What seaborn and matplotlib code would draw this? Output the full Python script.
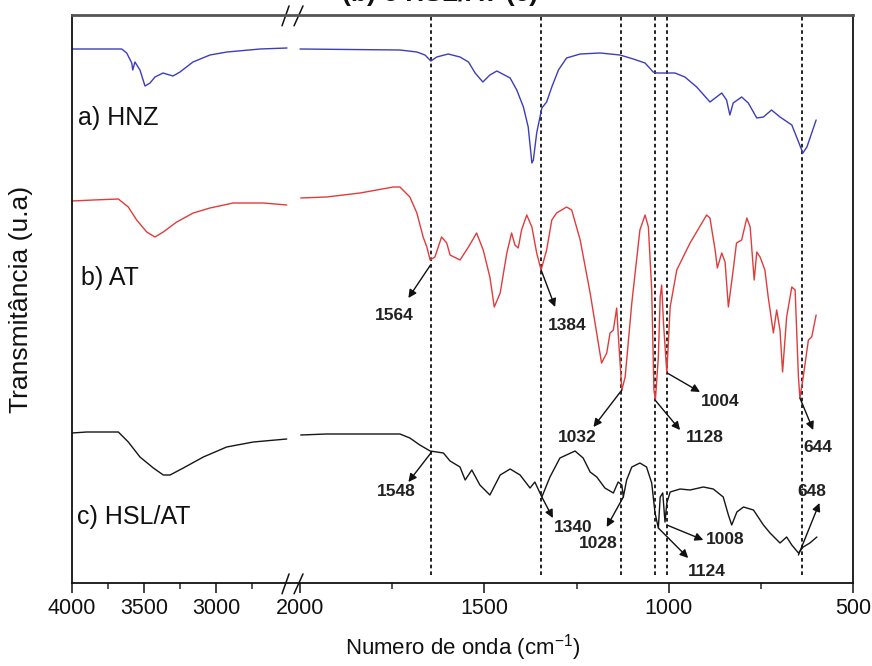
import numpy as np
import pandas as pd
import matplotlib
matplotlib.use("Agg")
import matplotlib.pyplot as plt
import seaborn as sns

# ---------------- data ----------------
amostras = ["a) HNZ", "b) AT", "c) HSL/AT"]

# HNZ (upper trace)
hnz_onda_alta = [4000, 3655, 3620, 3585, 3578, 3563, 3528, 3493, 3458, 3424, 3368,
                 3299, 3250, 3160, 3042, 2924, 2694, 2507]
hnz_trans_alta = [534, 534, 530, 520, 513, 521, 513, 497, 500, 506, 510,
                  507, 511, 521, 528, 531, 534, 535]
hnz_onda_baixa = [2000, 1729, 1683, 1661, 1645, 1629, 1598, 1566, 1543, 1525, 1504,
                  1485, 1466, 1430, 1412, 1394, 1381, 1371, 1367, 1358, 1344, 1331,
                  1317, 1299, 1277, 1240, 1186, 1132, 1096, 1064, 1042, 1032, 983,
                  956, 924, 888, 856, 843, 834, 825, 802, 784, 761, 743, 721, 698,
                  666, 653, 636, 625, 600]
hnz_trans_baixa = [534, 533, 531, 528, 522, 526, 529, 526, 521, 510, 501,
                   508, 512, 505, 493, 476, 456, 420, 423, 450, 475, 481,
                   496, 513, 525, 529, 530, 528, 524, 520, 511, 510, 510,
                   506, 496, 481, 490, 483, 468, 480, 486, 480, 465, 466, 473, 466,
                   458, 446, 430, 436, 463]

# AT (middle trace)
at_onda_alta = [4000, 3852, 3678, 3609, 3551, 3481, 3424, 3366, 3273, 3158, 3042,
                2880, 2672, 2509]
at_trans_alta = [382, 383, 384, 376, 363, 351, 346, 351, 361, 370, 375,
                 380, 380, 378]
at_onda_baixa = [1998, 1928, 1837, 1747, 1729, 1702, 1683, 1666, 1656, 1647, 1634,
                 1616, 1602, 1593, 1566, 1543, 1521, 1503, 1485, 1473, 1457, 1439,
                 1426, 1417, 1408, 1399, 1385, 1371, 1358, 1346, 1331, 1317, 1304,
                 1277, 1263, 1240, 1213, 1182, 1168, 1159, 1150, 1141, 1137, 1127,
                 1118, 1100, 1078, 1064, 1055, 1046, 1040, 1036, 1028, 1023, 1019,
                 1014, 1005, 996, 978, 942, 897, 888, 874, 868, 856, 847, 838, 825,
                 816, 802, 788, 779, 768, 761, 752, 739, 730, 716, 707, 698, 691,
                 680, 666, 657, 648, 644, 635, 621, 612, 600]
at_trans_baixa = [385, 386, 390, 396, 396, 386, 370, 346, 336, 323, 326,
                  346, 340, 328, 323, 336, 350, 333, 306, 276, 290, 330,
                  350, 338, 335, 353, 368, 356, 330, 313, 333, 363, 370,
                  376, 373, 343, 290, 220, 230, 250, 253, 275, 250, 193,
                  206, 280, 353, 368, 356, 293, 193, 183, 226, 286, 298,
                  260, 210, 276, 313, 340, 368, 365, 333, 315, 330, 321, 276, 313,
                  340, 343, 365, 356, 303, 331, 326, 313, 286, 250, 273, 253, 211,
                  266, 296, 293, 206, 185, 206, 243, 246, 268]

# HSL/AT (lower trace)
hsl_onda_alta = [4000, 3898, 3678, 3609, 3528, 3435, 3366, 3319, 3227, 3088, 2926,
                 2741, 2509]
hsl_trans_alta = [150, 151, 151, 141, 126, 115, 108, 108, 115, 126, 136,
                  141, 144]
hsl_onda_baixa = [1998, 1928, 1837, 1729, 1702, 1675, 1647, 1611, 1593, 1575, 1566,
                  1552, 1534, 1512, 1485, 1457, 1430, 1403, 1376, 1363, 1344, 1322,
                  1295, 1254, 1232, 1213, 1195, 1173, 1150, 1137, 1127, 1123, 1114,
                  1100, 1078, 1060, 1046, 1037, 1028, 1023, 1016, 1010, 1005, 996,
                  969, 942, 906, 879, 852, 838, 829, 815, 797, 770, 743, 725, 698,
                  680, 666, 648, 635, 617, 598]
hsl_trans_baixa = [148, 149, 149, 149, 145, 138, 132, 130, 122, 118, 116,
                   103, 113, 98, 88, 108, 114, 108, 95, 101, 86, 106,
                   125, 132, 125, 111, 106, 95, 90, 101, 98, 86, 103,
                   116, 120, 116, 100, 70, 55, 86, 90, 61, 80, 91,
                   94, 93, 96, 94, 86, 68, 58, 71, 76, 73, 58, 50, 40,
                   46, 38, 30, 36, 40, 46]

# reference bands (dashed guides)
bandas = [1645, 1346, 1130, 1037, 1005, 639]

# peak labels
picos_at = ["1564", "1384", "1032", "1128", "1004", "644"]
picos_hsl = ["1548", "1340", "1028", "1124", "1008", "648"]

xticks_maiores = [4000, 3500, 3000, 2000, 1500, 1000, 500]
xticks_menores = [3750, 3250, 2750, 1750, 1250, 750]

# ---------------- long table ----------------
partes = []
for nome, blocos in [
    (amostras[0], [(hnz_onda_alta, hnz_trans_alta), (hnz_onda_baixa, hnz_trans_baixa)]),
    (amostras[1], [(at_onda_alta, at_trans_alta), (at_onda_baixa, at_trans_baixa)]),
    (amostras[2], [(hsl_onda_alta, hsl_trans_alta), (hsl_onda_baixa, hsl_trans_baixa)]),
]:
    for k, (onda, trans) in enumerate(blocos):
        partes.append(pd.DataFrame({"onda": onda, "trans": trans,
                                    "amostra": nome, "trecho": k}))
df = pd.concat(partes, ignore_index=True)

# ---------------- style ----------------
sns.set_style("white")
plt.rcParams["font.family"] = ["Liberation Sans", "DejaVu Sans"]
plt.rcParams["mathtext.fontset"] = "custom"
plt.rcParams["mathtext.rm"] = "Liberation Sans"

fig = plt.figure(figsize=(8.72, 6.66), dpi=100)
ax = fig.add_axes([72 / 872, 1 - 583 / 666, (853 - 72) / 872, (583 - 15) / 666])

# broken wavenumber axis: 4000-2500 compressed, 2000-500 expanded
_dados = [500, 2000, 2500, 4000]
_escala = [0, 553, 565, 781]


def _fwd(x):
    return np.interp(x, _dados, _escala)


def _inv(u):
    return np.interp(u, _escala, _dados)


ax.set_xscale("function", functions=(_fwd, _inv))

paleta = {amostras[0]: "#3d3dbb", amostras[1]: "#e03c3c", amostras[2]: "#161616"}
sns.lineplot(data=df, x="onda", y="trans", hue="amostra", units="trecho",
             estimator=None, sort=False, palette=paleta, linewidth=1.0,
             legend=False, ax=ax)

ax.set_xlim(4000, 500)
ax.set_ylim(0, 568)

for b in bandas:
    ax.axvline(b, ymin=0.014, ymax=1, color="#111111", lw=1.3,
               linestyle=(0, (2.0, 1.7)), zorder=1)

# sample labels
for nome, xpos, ypos in [(amostras[0], 3958, 465), (amostras[1], 3937, 305),
                         (amostras[2], 3965, 66)]:
    ax.text(xpos, ypos, nome, fontsize=18, va="center", ha="left", color="#111111")

# arrows: (label, tail, head, text position)
setas = [
    (picos_at[0], (1646, 318), (1706, 285), (1745, 268)),
    (picos_at[1], (1346, 313), (1308, 276), (1276, 258)),
    (picos_at[2], (1127, 193), (1204, 156), (1249, 146)),
    (picos_at[3], (1037, 183), (969, 153), (901, 145)),
    (picos_at[4], (1004, 210), (915, 191), (861, 181)),
    (picos_at[5], (644, 185), (608, 153), (595, 136)),
    (picos_hsl[0], (1643, 131), (1706, 101), (1738, 91)),
    (picos_hsl[1], (1344, 86), (1314, 65), (1259, 55)),
    (picos_hsl[2], (1123, 86), (1168, 56), (1191, 39)),
    (picos_hsl[3], (1028, 55), (947, 25), (897, 11)),
    (picos_hsl[4], (1005, 58), (906, 43), (847, 44)),
    (picos_hsl[5], (648, 28), (591, 80), (612, 92)),
]
for rotulo, cauda, ponta, pos in setas:
    ax.annotate("", xy=ponta, xytext=cauda,
                arrowprops=dict(arrowstyle="-|>", color="#111111", lw=1.0,
                                mutation_scale=12, shrinkA=0, shrinkB=0))
    ax.text(pos[0], pos[1], rotulo, fontsize=12.5, fontweight="bold",
            ha="center", va="center", color="#222222")

# axes styling
ax.set_xticks(xticks_maiores)
ax.set_xticklabels([str(t) for t in xticks_maiores])
ax.set_xticks(xticks_menores, minor=True)
ax.set_yticks([])
ax.tick_params(axis="x", which="major", direction="out", length=7, width=1.1,
               labelsize=15.5, pad=4, colors="#111111", bottom=True)
ax.tick_params(axis="x", which="minor", direction="out", length=4, width=1.1,
               bottom=True)
for nome, sp in ax.spines.items():
    sp.set_visible(True)
    sp.set_color("#111111")
    sp.set_linewidth(1.3)
ax.spines["top"].set_color("#555555")
ax.spines["top"].set_linewidth(2.0)

ax.set_xlabel("Numero de onda (cm$^{-1}$)", fontsize=16, labelpad=9, color="#111111")
ax.set_ylabel("Transmitância (u.a)", fontsize=19, labelpad=28, color="#111111")

# axis break marks on top and bottom spines (axes-fraction coordinates)
for x0, x1 in [(0.2689, 0.2779), (0.2843, 0.2958)]:
    for yc in (0.0, 1.0):
        ax.plot([x0, x1], [yc - 0.019, yc + 0.016], transform=ax.transAxes,
                color="#111111", lw=1.1, clip_on=False)

# partially visible caption at the very top edge
fig.text(0.505, 1 - 6 / 666, "(b) e HSL/AT (c)", ha="center", va="bottom",
         fontsize=19, fontweight="bold", color="#111111")

fig.savefig("out.png", dpi=100)
